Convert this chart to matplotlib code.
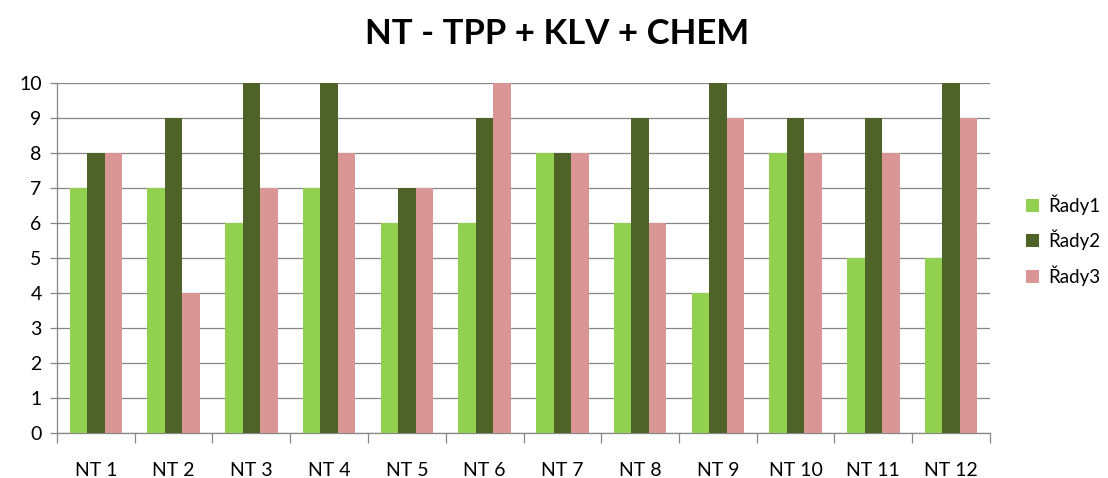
import numpy as np
import matplotlib.pyplot as plt

plt.rcParams['font.family'] = ['Lato', 'DejaVu Sans']

# data
categories = ["NT 1", "NT 2", "NT 3", "NT 4", "NT 5", "NT 6",
              "NT 7", "NT 8", "NT 9", "NT 10", "NT 11", "NT 12"]
rady1 = [7, 7, 6, 7, 6, 6, 8, 6, 4, 8, 5, 5]
rady2 = [8, 9, 10, 10, 7, 9, 8, 9, 10, 9, 9, 10]
rady3 = [8, 4, 7, 8, 7, 10, 8, 6, 9, 8, 8, 9]
series_names = ["Řady1", "Řady2", "Řady3"]
colors = ["#92D050", "#4F6228", "#D99694"]

W, H = 1108, 478
fig = plt.figure(figsize=(W / 100, H / 100), dpi=100)
ax = fig.add_axes([57 / W, 1 - 433 / H, (990 - 57) / W, (433 - 83) / H])

x = np.arange(len(categories))
bw = 0.225
for i, (vals, name, c) in enumerate(zip([rady1, rady2, rady3], series_names, colors)):
    ax.bar(x + (i - 1) * bw, vals, width=bw, color=c, label=name, zorder=3)

ax.set_xlim(-0.5, len(categories) - 0.5)
ax.set_ylim(0, 10)
ax.set_yticks(range(0, 11))
ax.yaxis.grid(True, color="#868686", linewidth=0.9, zorder=0)

# category labels between the boundary ticks
ax.set_xticks(np.arange(-0.5, len(categories)), minor=False)
ax.set_xticklabels([])
ax.set_xticks(x, minor=True)
ax.set_xticklabels(categories, minor=True)
ax.tick_params(axis="x", which="major", length=7, color="#868686", width=0.9)
ax.tick_params(axis="x", which="minor", length=0, pad=21, labelsize=14)
ax.tick_params(axis="y", length=5, color="#868686", width=0.9, labelsize=14, pad=6)

for s in ["top", "right"]:
    ax.spines[s].set_visible(False)
for s in ["left", "bottom"]:
    ax.spines[s].set_color("#868686")
    ax.spines[s].set_linewidth(0.9)

fig.text(557 / W, 1 - 34 / H, "NT - TPP + KLV + CHEM", ha="center", va="center",
         fontsize=25, fontweight="bold")

fig.legend(loc="center left", bbox_to_anchor=(1020 / W, 1 - 240 / H), frameon=False,
           fontsize=13.5, handlelength=0.7, handleheight=0.7, handletextpad=0.5,
           labelspacing=0.8, borderaxespad=0, borderpad=0.3)

fig.savefig("out.png", dpi=100)
